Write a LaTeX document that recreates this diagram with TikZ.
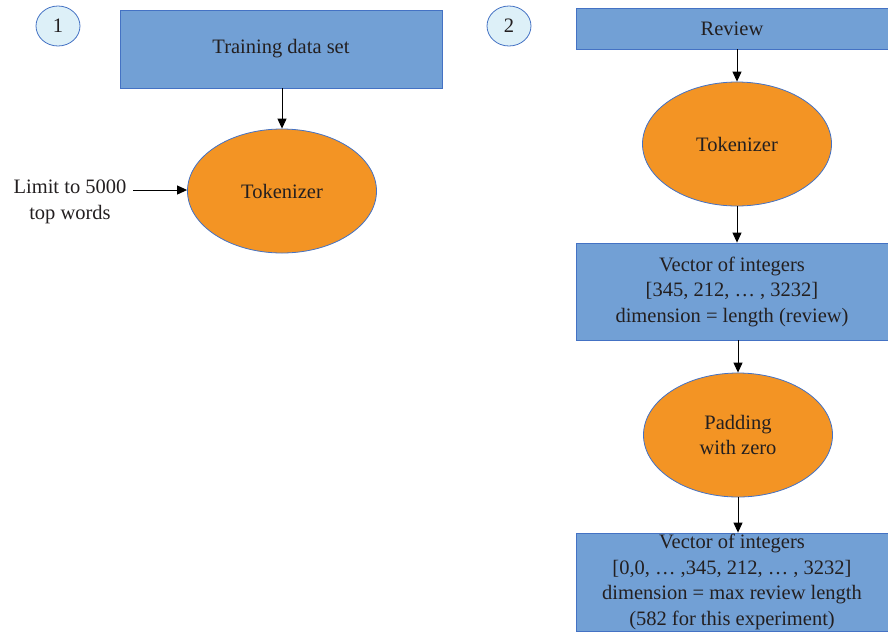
\documentclass[tikz,border=0pt]{standalone}
\usepackage{fontspec}
\newfontfamily\bodyfont{Liberation Serif}
\usetikzlibrary{arrows.meta,shapes.geometric}
\definecolor{boxfill}{HTML}{72A0D5}
\definecolor{edgeblue}{HTML}{4472C4}
\definecolor{ovalfill}{HTML}{F39424}
\definecolor{badgefill}{HTML}{DDF0F8}
\definecolor{ink}{HTML}{231F20}
\begin{document}
\begin{tikzpicture}[x=1pt,y=1pt,
  every node/.style={text=ink,font=\bodyfont\fontsize{20.5}{25.5}\selectfont},
  stepbox/.style={draw=edgeblue,line width=0.8pt,fill=boxfill,align=center,inner sep=0pt},
  oval/.style={ellipse,draw=edgeblue,line width=0.8pt,fill=ovalfill,align=center,
               minimum width=189pt,minimum height=124pt,inner sep=0pt},
  badge/.style={ellipse,draw=edgeblue,line width=0.8pt,fill=badgefill,
               minimum width=44pt,minimum height=40pt,inner sep=0pt},
  flow/.style={-{Triangle[length=10pt,width=9pt]},line width=1pt,draw=black}]
\useasboundingbox (0,0) rectangle (888,-633);

% step markers
\node[badge] (b1) at (58,-26) {1};
\node[badge] (b2) at (509,-26) {2};

% part 1: building the tokenizer
\node[stepbox,minimum width=322pt,minimum height=78pt] (train) at (281,-49) {Training data set};
\node[oval] (tok1) at (282,-191) {Tokenizer};
\node[align=center] (limit) at (70,-202) {Limit to 5000\\top words};
\coordinate (limitend) at (133,-190);

\draw[flow] (train.south -| tok1.north) -- (tok1.north);
\draw[flow] (limitend) -- (tok1.west |- limitend);

% part 2: encoding one review
\node[stepbox,minimum width=312pt,minimum height=41pt] (review) at (732,-28.5) {Review};
\node[oval] (tok2) at (737,-144) {Tokenizer};
\node[stepbox,minimum width=312pt,minimum height=97pt] (vec1) at (732,-291.5)
  {Vector of integers\\{}[345, 212, \dots\ , 3232]\\dimension = length (review)};
\node[oval] (pad) at (738,-435) {Padding\\with zero};
\node[stepbox,minimum width=312pt,minimum height=98pt] (vec2) at (732,-582)
  {Vector of integers\\{}[0,0, \dots\ ,345, 212, \dots\ , 3232]\\dimension = max review length\\(582 for this experiment)};

\draw[flow] (review.south -| tok2.north) -- (tok2.north);
\draw[flow] (tok2.south) -- (tok2.south |- vec1.north);
\draw[flow] (vec1.south -| pad.north) -- (pad.north);
\draw[flow] (pad.south) -- (pad.south |- vec2.north);
\end{tikzpicture}
\end{document}
